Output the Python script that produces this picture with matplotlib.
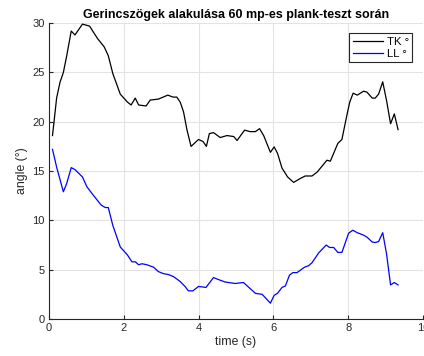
import matplotlib
matplotlib.use("Agg")
import matplotlib.pyplot as plt

plt.rcParams["font.family"] = ["Liberation Sans", "DejaVu Sans"]

# TK (thoracic kyphosis) angle over time
tk_t = [0.10, 0.21, 0.30, 0.39, 0.48, 0.60, 0.70, 0.90, 1.09, 1.19, 1.31, 1.48,
        1.59, 1.71, 1.91, 2.10, 2.20, 2.31, 2.40, 2.60, 2.71, 2.93, 3.18, 3.32,
        3.42, 3.51, 3.60, 3.69, 3.80, 4.00, 4.12, 4.21, 4.29, 4.40, 4.58, 4.76,
        4.94, 5.03, 5.23, 5.38, 5.52, 5.63, 5.74, 5.92, 6.02, 6.11, 6.23, 6.38,
        6.54, 6.72, 6.85, 7.03, 7.17, 7.30, 7.43, 7.52, 7.61, 7.72, 7.83, 7.97,
        8.04, 8.13, 8.24, 8.41, 8.50, 8.64, 8.72, 8.81, 8.92, 9.02, 9.13, 9.23,
        9.33]
tk_deg = [18.6, 22.4, 24.0, 25.0, 26.7, 29.2, 28.8, 29.9, 29.7, 29.1, 28.4, 27.6,
          26.7, 24.9, 22.8, 22.0, 21.7, 22.4, 21.7, 21.6, 22.2, 22.3, 22.7, 22.5,
          22.5, 22.0, 21.0, 19.2, 17.5, 18.2, 18.0, 17.5, 18.8, 18.9, 18.4, 18.6,
          18.5, 18.1, 19.15, 19.0, 19.0, 19.3, 18.6, 16.9, 17.45, 16.8, 15.3, 14.4,
          13.85, 14.25, 14.5, 14.5, 14.9, 15.5, 16.1, 16.0, 16.8, 17.8, 18.2, 20.8,
          22.0, 22.9, 22.7, 23.1, 23.0, 22.4, 22.4, 22.8, 24.05, 22.2, 19.8, 20.8,
          19.2]

# LL (lumbar lordosis) angle over time
ll_t = [0.10, 0.21, 0.39, 0.48, 0.60, 0.70, 0.90, 1.02, 1.19, 1.40, 1.51, 1.59,
        1.71, 1.91, 2.10, 2.22, 2.31, 2.40, 2.49, 2.62, 2.80, 2.93, 3.06, 3.20,
        3.33, 3.51, 3.64, 3.73, 3.85, 4.00, 4.20, 4.40, 4.53, 4.71, 4.98, 5.20,
        5.52, 5.70, 5.92, 6.02, 6.11, 6.23, 6.32, 6.43, 6.52, 6.63, 6.83, 6.94,
        7.03, 7.21, 7.41, 7.50, 7.61, 7.72, 7.83, 8.01, 8.12, 8.24, 8.41, 8.50,
        8.64, 8.72, 8.81, 8.92, 9.02, 9.13, 9.23, 9.33]
ll_deg = [17.2, 15.4, 12.9, 13.75, 15.35, 15.15, 14.4, 13.4, 12.55, 11.55, 11.3, 11.3,
          9.5, 7.3, 6.5, 5.8, 5.8, 5.5, 5.6, 5.5, 5.25, 4.8, 4.6, 4.5,
          4.3, 3.8, 3.3, 2.85, 2.85, 3.3, 3.2, 4.2, 4.0, 3.75, 3.6, 3.7,
          2.6, 2.5, 1.6, 2.4, 2.6, 3.2, 3.35, 4.45, 4.7, 4.7, 5.25, 5.4,
          5.7, 6.7, 7.5, 7.25, 7.25, 6.75, 6.75, 8.7, 9.0, 8.75, 8.5, 8.3,
          7.8, 7.75, 7.85, 8.75, 6.65, 3.45, 3.7, 3.45]

dark = "#262626"

fig = plt.figure(figsize=(4.24, 3.56), dpi=100)
ax = fig.add_axes([0.115, 0.104, 0.883, 0.831])

ax.plot(tk_t, tk_deg, color="black", lw=0.9, label="TK °")
ax.plot(ll_t, ll_deg, color="#0000ff", lw=0.9, label="LL °")

ax.set_xlim(0, 10)
ax.set_ylim(0, 30)
ax.set_xticks(range(0, 11, 2))
ax.set_yticks(range(0, 31, 5))
ax.grid(True, color="#e3e3e3", lw=0.8)
ax.set_axisbelow(True)

for side in ("top", "right"):
    ax.spines[side].set_visible(False)
for side in ("left", "bottom"):
    ax.spines[side].set_color(dark)
    ax.spines[side].set_linewidth(0.8)
ax.tick_params(direction="in", length=3, width=0.8, colors=dark,
               labelsize=8, pad=3)

ax.set_title("Gerincszögek alakulása 60 mp-es plank-teszt során",
             fontsize=9, fontweight="bold", pad=4)
ax.set_xlabel("time (s)", fontsize=8.8, color=dark, labelpad=2)
ax.set_ylabel("angle (°)", fontsize=8.8, color=dark, labelpad=3)

leg = ax.legend(loc="upper right", bbox_to_anchor=(0.971, 0.966), fontsize=8.2,
                fancybox=False, framealpha=1, edgecolor=dark,
                handlelength=2.7, handletextpad=0.3, borderpad=0.3,
                labelspacing=0.2, borderaxespad=0)
leg.get_frame().set_linewidth(0.8)

fig.savefig("out.png", dpi=100)
